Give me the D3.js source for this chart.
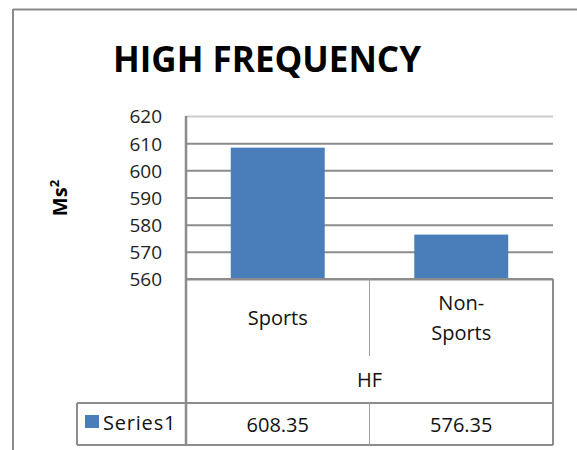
<!DOCTYPE html>
<html>
<head>
<meta charset="utf-8">
<script src="https://cdn.jsdelivr.net/npm/d3@7"></script>
<style>
  html, body { margin: 0; padding: 0; background: #fff; }
  svg { display: block; font-family: "Open Sans", sans-serif; }
</style>
</head>
<body>
<svg id="chart" width="577" height="450"></svg>
<script>
const title = "HIGH FREQUENCY";
const yAxisTitle = "Ms";
const categories = ["Sports", "Non-Sports"];
const categoryLines = [["Sports"], ["Non-", "Sports"]];
const groupLabel = "HF";
const seriesName = "Series1";
const values = [608.35, 576.35];
const valueLabels = ["608.35", "576.35"];
const yTicks = [560, 570, 580, 590, 600, 610, 620];

const svg = d3.select("#chart");
const plot = { left: 186, right: 553, top: 116, bottom: 279 };
const table = { legendLeft: 77, catBottom: 403, bottom: 445 };
const barColor = "#4a7ebb";
const lineColor = "#8c8c8c";

// outer frame (top and left only visible)
svg.append("line").attr("x1", 13).attr("x2", 577).attr("y1", 9.5).attr("y2", 9.5)
  .attr("stroke", "#8a8a8a").attr("stroke-width", 2);
svg.append("line").attr("x1", 13).attr("x2", 13).attr("y1", 9).attr("y2", 450)
  .attr("stroke", "#8a8a8a").attr("stroke-width", 2);

// title
svg.append("text").attr("x", 267).attr("y", 72).attr("text-anchor", "middle")
  .attr("font-weight", "bold").attr("font-size", 35).attr("fill", "#000")
  .text(title);

const y = d3.scaleLinear().domain([560, 620]).range([plot.bottom, plot.top]);
const x = d3.scaleBand().domain(categories).range([plot.left, plot.right])
  .paddingInner(0.488).paddingOuter(0.244);
const xCat = d3.scaleBand().domain(categories).range([plot.left, plot.right]);

// gridlines
const grid = svg.append("g").attr("transform", `translate(${plot.left},0)`)
  .call(d3.axisLeft(y).tickValues(yTicks).tickSize(-(plot.right - plot.left)).tickFormat(""));
grid.select(".domain").remove();
grid.selectAll(".tick line").attr("stroke", lineColor).attr("stroke-width", 2)
  .attr("stroke-opacity", d => d === 620 ? 0.45 : 1);

// tick labels
const yAxis = svg.append("g").attr("transform", `translate(${plot.left},0)`)
  .call(d3.axisLeft(y).tickValues(yTicks).tickSize(0).tickPadding(24));
yAxis.select(".domain").remove();
yAxis.selectAll(".tick text").attr("font-family", "Open Sans, sans-serif")
  .attr("font-size", 19).attr("fill", "#222").attr("dy", "0.36em");

// bars
svg.append("g").selectAll("rect").data(values).join("rect")
  .attr("x", (d, i) => x(categories[i]))
  .attr("width", x.bandwidth())
  .attr("y", d => y(d))
  .attr("height", d => y(560) - y(d))
  .attr("fill", barColor);

// axis line (left) through category area
svg.append("line").attr("x1", plot.left).attr("x2", plot.left)
  .attr("y1", plot.top).attr("y2", table.bottom)
  .attr("stroke", lineColor).attr("stroke-width", 2.5);

// y axis title
svg.append("text").attr("transform", "translate(67,198) rotate(-90)")
  .attr("text-anchor", "middle").attr("font-weight", "bold").attr("font-size", 20)
  .attr("fill", "#000")
  .call(t => {
    t.append("tspan").text(yAxisTitle);
    t.append("tspan").attr("dy", -8).attr("font-size", 13).text("2");
  });

// table lines
const tl = svg.append("g").attr("stroke", lineColor).attr("stroke-width", 2);
tl.append("line").attr("x1", plot.left).attr("x2", plot.right).attr("y1", plot.bottom).attr("y2", plot.bottom);
tl.append("line").attr("x1", plot.right).attr("x2", plot.right).attr("y1", plot.bottom).attr("y2", table.bottom);
tl.append("line").attr("x1", table.legendLeft).attr("x2", plot.right).attr("y1", table.catBottom).attr("y2", table.catBottom);
tl.append("line").attr("x1", table.legendLeft).attr("x2", plot.right).attr("y1", table.bottom).attr("y2", table.bottom);
tl.append("line").attr("x1", table.legendLeft).attr("x2", table.legendLeft).attr("y1", table.catBottom).attr("y2", table.bottom);
// category dividers
const thin = svg.append("g").attr("stroke", "#a0a0a0").attr("stroke-width", 1);
categories.slice(1).forEach(c => {
  thin.append("line").attr("x1", xCat(c)).attr("x2", xCat(c)).attr("y1", plot.bottom).attr("y2", 356);
  thin.append("line").attr("x1", xCat(c)).attr("x2", xCat(c)).attr("y1", table.catBottom).attr("y2", table.bottom);
});

// category labels
categoryLines.forEach((lines, i) => {
  const cx = xCat(categories[i]) + xCat.bandwidth() / 2;
  const startY = lines.length === 1 ? 325 : 310;
  lines.forEach((ln, j) => {
    svg.append("text").attr("x", cx).attr("y", startY + j * 30)
      .attr("text-anchor", "middle").attr("font-size", 20).attr("fill", "#111").text(ln);
  });
});

// group label
svg.append("text").attr("x", xCat(categories[1])).attr("y", 387)
  .attr("text-anchor", "middle").attr("font-size", 20).attr("fill", "#111").text(groupLabel);

// legend
svg.append("rect").attr("x", 85).attr("y", 415).attr("width", 14).attr("height", 13).attr("fill", barColor);
svg.append("text").attr("x", 103).attr("y", 429.5).attr("font-size", 20).attr("fill", "#111")
  .attr("letter-spacing", 0.8).text(seriesName);

// values row
valueLabels.forEach((v, i) => {
  svg.append("text").attr("x", xCat(categories[i]) + xCat.bandwidth() / 2).attr("y", 431.5)
    .attr("text-anchor", "middle").attr("font-size", 20).attr("fill", "#111").text(v);
});
</script>
</body>
</html>
